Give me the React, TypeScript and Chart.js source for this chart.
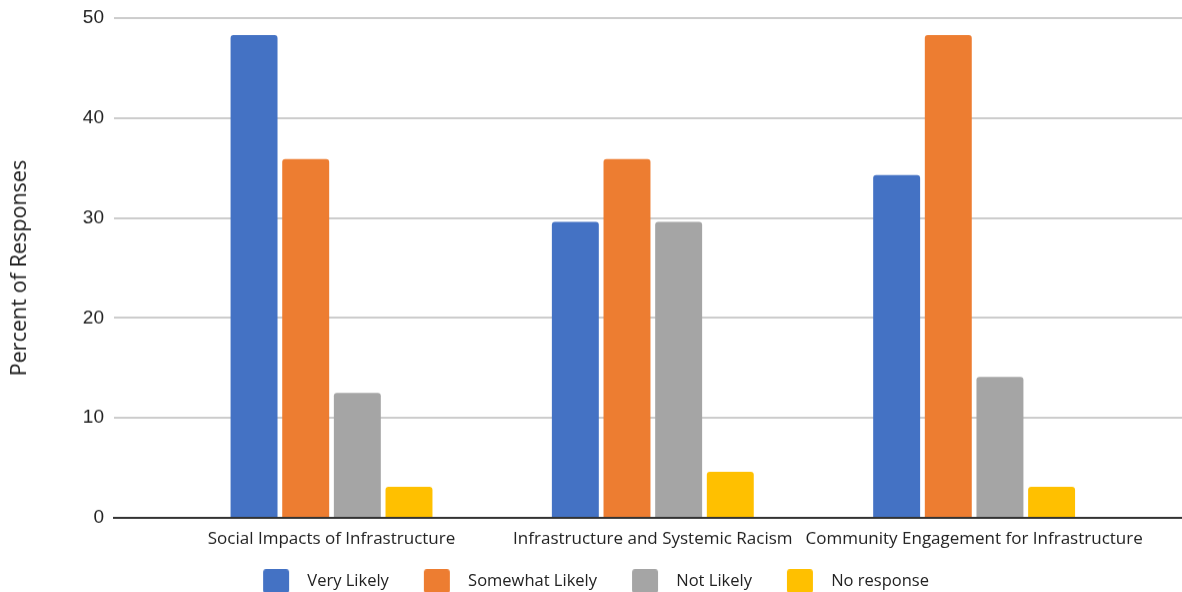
import React, { useEffect, useRef } from 'react';
import { Chart, registerables } from 'chart.js';

Chart.register(...registerables);

const categories = [
  'Social Impacts of Infrastructure',
  'Infrastructure and Systemic Racism',
  'Community Engagement for Infrastructure',
];
const seriesNames = ['Very Likely', 'Somewhat Likely', 'Not Likely', 'No response'];
const veryLikely = [48.3, 29.6, 34.3];
const somewhatLikely = [35.9, 35.9, 48.3];
const notLikely = [12.5, 29.6, 14.1];
const noResponse = [3.1, 4.6, 3.1];
const seriesColors = ['#4472C4', '#ED7D31', '#A5A5A5', '#FFC000'];
const yTicks = [0, 10, 20, 30, 40, 50];
const yTitle = 'Percent of Responses';

const LABEL_FONT = '"Open Sans", Lato, sans-serif';

function makeSwatch(color: string): HTMLCanvasElement {
  const c = document.createElement('canvas');
  c.width = 46;
  c.height = 24;
  const g = c.getContext('2d')!;
  g.fillStyle = color;
  g.beginPath();
  const x0 = 10, w = 26, h = 24, r = 3;
  g.moveTo(x0 + r, 0);
  g.lineTo(x0 + w - r, 0);
  g.quadraticCurveTo(x0 + w, 0, x0 + w, r);
  g.lineTo(x0 + w, h - r);
  g.quadraticCurveTo(x0 + w, h, x0 + w - r, h);
  g.lineTo(x0 + r, h);
  g.quadraticCurveTo(x0, h, x0, h - r);
  g.lineTo(x0, r);
  g.quadraticCurveTo(x0, 0, x0 + r, 0);
  g.fill();
  return c;
}

export default function App() {
  const ref = useRef<HTMLCanvasElement | null>(null);

  useEffect(() => {
    document.body.style.margin = '0';
    const canvas = ref.current;
    if (!canvas) return;
    const allSeries = [veryLikely, somewhatLikely, notLikely, noResponse];
    const swatches = seriesColors.map(makeSwatch);
    const chart = new Chart(canvas, {
      type: 'bar',
      data: {
        datasets: allSeries.map((vals, si) => ({
          label: seriesNames[si],
          data: vals.map((v, i) => ({ x: i, y: v })),
          backgroundColor: seriesColors[si],
          borderRadius: 3,
          borderSkipped: 'start',
          categoryPercentage: 0.643,
          barPercentage: 0.909,
        })),
      },
      options: {
        animation: false,
        responsive: true,
        maintainAspectRatio: false,
        layout: { padding: { top: 18, right: 0, left: 0, bottom: 0 } },
        scales: {
          x: {
            type: 'linear',
            offset: false,
            min: -0.677,
            max: 2.647,
            afterBuildTicks: (scale: any) => {
              scale.ticks = categories.map((_, i) => ({ value: i }));
            },
            afterFit: (scale: any) => {
              scale.height = 30;
            },
            ticks: {
              autoSkip: false,
              maxRotation: 0,
              minRotation: 0,
              padding: 11,
              color: '#222222',
              font: { family: LABEL_FONT, size: 17 },
              callback: (value: any) => categories[Number(value)] ?? '',
            },
            grid: { drawOnChartArea: false, drawTicks: false },
            border: { display: true, color: '#333333', width: 2 },
          },
          y: {
            min: 0,
            max: 50,
            afterBuildTicks: (scale: any) => {
              scale.ticks = yTicks.map((v) => ({ value: v }));
            },
            afterFit: (scale: any) => {
              scale.width = 114;
              scale.paddingTop = 0;
              scale.paddingBottom = 0;
            },
            ticks: {
              padding: 10,
              color: '#222222',
              font: { family: '"Liberation Sans", Arial, sans-serif', size: 19 },
            },
            grid: { color: '#CCCCCC', lineWidth: 2, drawTicks: false },
            border: { display: false },
            title: {
              display: true,
              text: yTitle,
              color: '#222222',
              font: { family: LABEL_FONT, size: 21.5 },
              padding: { top: 7, bottom: 0 },
            },
          },
        },
        plugins: {
          tooltip: { enabled: false },
          legend: {
            position: 'bottom',
            labels: {
              usePointStyle: true,
              pointStyleWidth: 46,
              padding: 25,
              color: '#222222',
              font: { family: LABEL_FONT, size: 16.5 },
              generateLabels: (ch: any) => {
                const items = Chart.defaults.plugins.legend.labels.generateLabels(ch);
                return items.map((it: any, i: number) => ({ ...it, pointStyle: swatches[i] }));
              },
            },
          },
        },
      } as any,
    });
    return () => chart.destroy();
  }, []);

  return (
    <div style={{ width: 1182, height: 592, overflow: 'hidden' }}>
      <div style={{ position: 'relative', width: 1182, height: 598.5 }}>
        <canvas ref={ref} />
      </div>
    </div>
  );
}
